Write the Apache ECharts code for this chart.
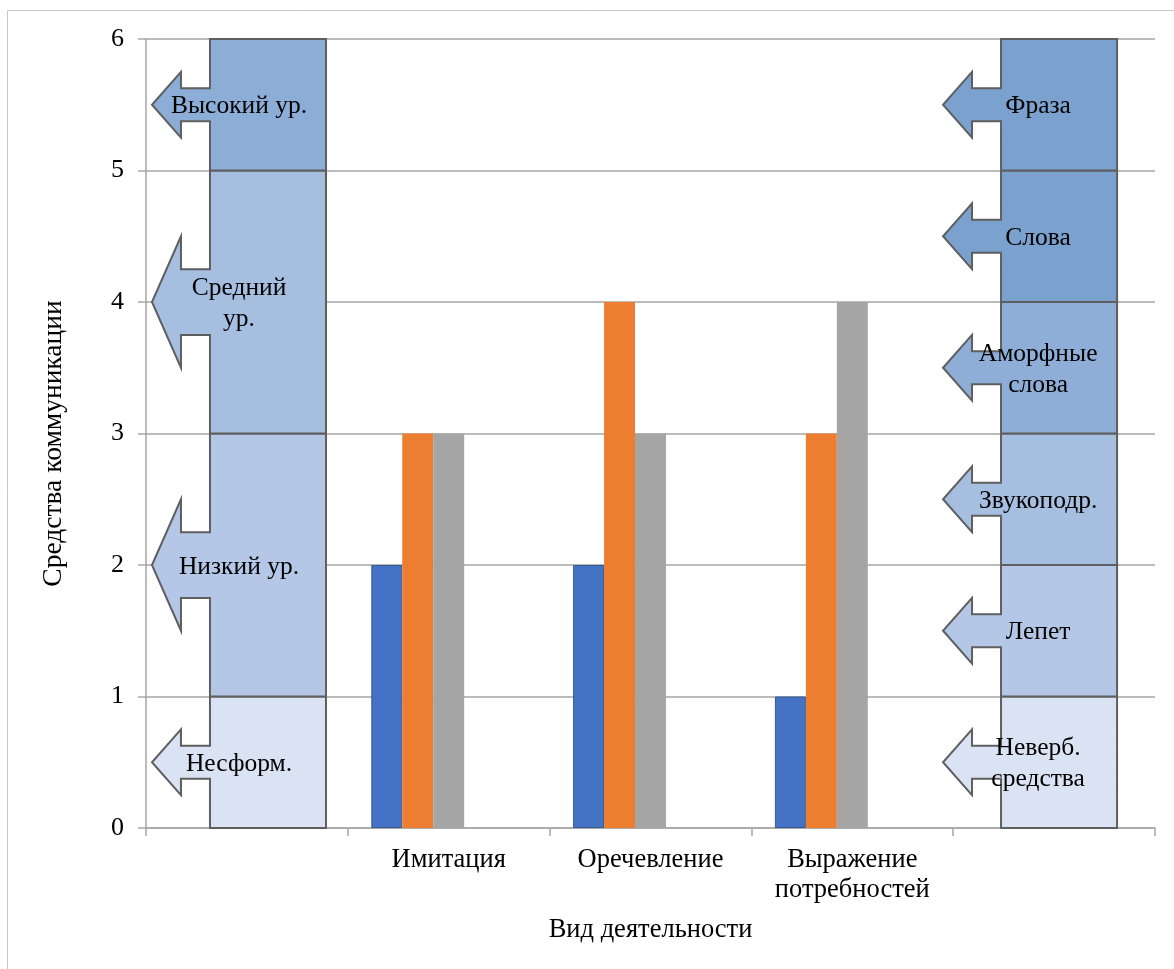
<!DOCTYPE html>
<html>
<head>
<meta charset="utf-8">
<title>Средства коммуникации</title>
<script src="https://cdn.jsdelivr.net/npm/echarts@6/dist/echarts.min.js"></script>
<style>
  html, body { margin: 0; padding: 0; background: #ffffff; }
  #chart { width: 1174px; height: 969px; }
</style>
</head>
<body>
<div id="chart"></div>
<script>
// Activity types on the x axis (first and last slots hold the scale columns)
const categories = ['', 'Имитация', 'Оречевление', 'Выражение потребностей', ''];

// Three measured series per activity
const seriesBlue   = ['-', 2, 2, 1, '-'];
const seriesOrange = ['-', 3, 4, 3, '-'];
const seriesGray   = ['-', 3, 3, 4, '-'];

// Y-axis ticks
const yTicks = [0, 1, 2, 3, 4, 5, 6];

// Level scale (left column): segment boundaries and names
const levelBounds = [0, 1, 3, 5, 6];
const levelNames  = ['Несформ.', 'Низкий ур.', 'Средний\nур.', 'Высокий ур.'];

// Communication means scale (right column)
const meansBounds = [0, 1, 2, 3, 4, 5, 6];
const meansNames  = ['Неверб.\nсредства', 'Лепет', 'Звукоподр.', 'Аморфные\nслова', 'Слова', 'Фраза'];

const FONT = '"Liberation Serif", "Times New Roman", serif';

// Fill colours for the scale segments (bottom to top)
const levelColors = ['#DAE3F3', '#B4C7E7', '#A6BEDF', '#8CADD6'];
const meansColors = ['#DAE3F3', '#B4C7E7', '#A6BEDF', '#8EAED7', '#7BA1CF', '#7BA1CF'];

// Column geometry as fractions of the category band
const columnStyle = {
  0: { left: -0.183, right: 0.392, textShift: 0, colors: levelColors },
  4: { left: -0.263, right: 0.312, textShift: 0.04, colors: meansColors }
};

function buildSegments(catIndex, bounds, names) {
  const out = [];
  for (let i = 0; i < names.length; i++) {
    out.push({ value: [catIndex, bounds[i], bounds[i + 1], i], name: names[i] });
  }
  return out;
}

const segmentData = buildSegments(0, levelBounds, levelNames)
  .concat(buildSegments(4, meansBounds, meansNames));

// Segment with a left-pointing arrow callout attached to its left edge
function renderSegment(params, api) {
  const cat = api.value(0);
  const y0 = api.value(1);
  const y1 = api.value(2);
  const idx = api.value(3);
  const st = columnStyle[cat];
  const band = api.size([1, 0])[0];
  const pBottom = api.coord([cat, y0]);
  const pTop = api.coord([cat, y1]);
  const cx = pBottom[0];
  const L = cx + st.left * band;
  const R = cx + st.right * band;
  const B = pBottom[1];
  const T = pTop[1];
  const h = B - T;
  const cy = (T + B) / 2;
  const seg = band * 0.1437;
  const headHalf = h * 0.25;
  const shaftHalf = h * 0.125;
  const pts = [
    [L, T], [R, T], [R, B], [L, B],
    [L, cy + shaftHalf], [L - seg, cy + shaftHalf], [L - seg, cy + headHalf],
    [L - 2 * seg, cy],
    [L - seg, cy - headHalf], [L - seg, cy - shaftHalf], [L, cy - shaftHalf]
  ];
  const name = segmentData[params.dataIndex].name;
  return {
    type: 'group',
    children: [
      {
        type: 'polygon',
        shape: { points: pts },
        style: { fill: st.colors[idx], stroke: '#5f5f5f', lineWidth: 2, lineJoin: 'miter' }
      },
      {
        type: 'text',
        x: (L - 2 * seg + R) / 2 + st.textShift * band,
        y: cy + 2,
        style: {
          text: name,
          fill: '#000000',
          font: '25.5px ' + FONT,
          align: 'center',
          verticalAlign: 'middle',
          lineHeight: 31
        }
      }
    ]
  };
}

const chart = echarts.init(document.getElementById('chart'), null, { renderer: 'canvas' });

const axisGray = '#A6A6A6';

chart.setOption({
  animation: false,
  backgroundColor: '#ffffff',
  textStyle: { fontFamily: FONT },
  graphic: [
    {
      type: 'rect',
      shape: { x: 7.5, y: 10.5, width: 1200, height: 1000 },
      style: { fill: 'none', stroke: '#C8C8C8', lineWidth: 1 },
      silent: true
    }
  ],
  grid: { left: 146, right: 19, top: 39, bottom: 141, containLabel: false, outerBoundsMode: 'none' },
  xAxis: {
    type: 'category',
    data: categories,
    name: 'Вид деятельности',
    nameLocation: 'middle',
    nameGap: 89,
    nameTextStyle: { fontFamily: FONT, fontSize: 26.5, color: '#000000' },
    axisLine: { show: true, lineStyle: { color: axisGray, width: 1.5 } },
    axisTick: { show: true, length: 8, alignWithLabel: false, lineStyle: { color: axisGray, width: 1.5 } },
    axisLabel: {
      interval: 0,
      margin: 17,
      fontFamily: FONT,
      fontSize: 26.5,
      color: '#000000',
      lineHeight: 30,
      formatter: function (v) { return v.replace(' ', '\n'); }
    },
    splitLine: { show: false }
  },
  yAxis: {
    type: 'value',
    min: yTicks[0],
    max: yTicks[yTicks.length - 1],
    interval: 1,
    name: 'Средства коммуникации',
    nameLocation: 'middle',
    nameGap: 78,
    nameTextStyle: { fontFamily: FONT, fontSize: 27.5, color: '#000000', padding: [0, 20, 0, 0] },
    axisLine: { show: true, lineStyle: { color: axisGray, width: 1.5 } },
    axisTick: { show: true, length: 8, lineStyle: { color: axisGray, width: 1.5 } },
    axisLabel: { margin: 22, fontFamily: FONT, fontSize: 26, color: '#000000' },
    splitLine: { show: true, lineStyle: { color: axisGray, width: 1.5 } }
  },
  series: [
    {
      type: 'bar', name: 'Ряд 1', data: seriesBlue,
      barGap: '0%', barCategoryGap: '23.3%',
      itemStyle: { color: '#4472C4', borderColor: '#35598F', borderWidth: 1 }
    },
    {
      type: 'bar', name: 'Ряд 2', data: seriesOrange,
      barGap: '0%', barCategoryGap: '23.3%',
      itemStyle: { color: '#ED7D31' }
    },
    {
      type: 'bar', name: 'Ряд 3', data: seriesGray,
      barGap: '0%', barCategoryGap: '23.3%',
      itemStyle: { color: '#A5A5A5' }
    },
    { type: 'bar', name: 'Ряд 4', data: ['-', '-', '-', '-', '-'], barGap: '0%', barCategoryGap: '23.3%' },
    { type: 'bar', name: 'Ряд 5', data: ['-', '-', '-', '-', '-'], barGap: '0%', barCategoryGap: '23.3%' },
    {
      type: 'custom',
      name: 'Шкалы',
      renderItem: renderSegment,
      data: segmentData,
      encode: { x: 0, y: [1, 2] },
      z: 5,
      clip: false
    }
  ]
});
</script>
</body>
</html>
